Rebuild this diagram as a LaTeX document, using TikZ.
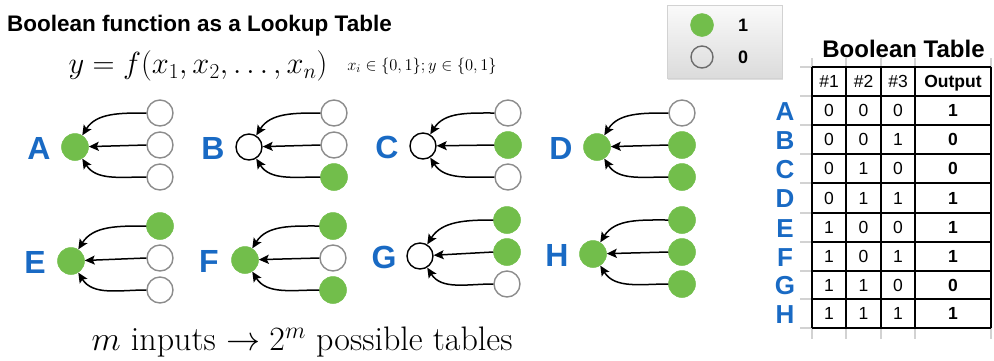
\documentclass[tikz,border=0pt]{standalone}
\usepackage{fix-cm}
\usepackage{fontspec}
\newfontfamily\arial{Liberation Sans}
\usetikzlibrary{arrows.meta,shadows}
\definecolor{ongreen}{RGB}{114,190,75}
\definecolor{lblblue}{RGB}{25,106,196}
\definecolor{ringgray}{RGB}{140,140,140}
\definecolor{gridgray}{RGB}{210,210,210}
\tikzset{
 onnode/.style={circle,fill=ongreen,draw=ongreen,line width=0.5pt,minimum size=27pt,inner sep=0pt},
 offin/.style={circle,draw=ringgray,line width=1.4pt,minimum size=26pt,inner sep=0pt},
 offout/.style={circle,draw=black,line width=1.4pt,minimum size=26pt,inner sep=0pt},
 grplbl/.style={text=lblblue,font=\arial\bfseries\fontsize{32}{32}\selectfont,inner sep=0pt},
 arr/.style={-{Stealth[length=10pt,width=9pt,inset=2pt]},line width=1.5pt},
 cell/.style={font=\arial\fontsize{17.5}{17.5}\selectfont,inner sep=0pt,text depth=0pt},
 cellb/.style={font=\arial\bfseries\fontsize{17.5}{17.5}\selectfont,inner sep=0pt,text depth=0pt},
 rowlbl/.style={text=lblblue,font=\arial\bfseries\fontsize{26}{26}\selectfont,inner sep=0pt},
 tline/.style={line width=1.7pt,black},
 gline/.style={line width=1.5pt,gridgray},
}
\newcommand\fgrp[9]{%
 \node[grplbl] (lab#1) at ({#2-36},{#3+1}) {#1};
 \node[#4] (t#1) at (#2,#3) {};
 \node[#7] (#1a) at (#5,{#6-32}) {};
 \node[#8] (#1b) at (#5,#6) {};
 \node[#9] (#1c) at (#5,{#6+32}) {};
 \draw[arr] (#1a.west) to[out=180,in=58] (t#1);
 \draw[arr] (#1b.west) -- (t#1);
 \draw[arr] (#1c.west) to[out=180,in=-58] (t#1);
}
\begin{document}
\begin{tikzpicture}[x=1pt,y=-1pt]
\useasboundingbox (0,0) rectangle (994,360);
% title and formulas
\node[anchor=base west,inner sep=0pt,font=\arial\bfseries\fontsize{22.5}{22.5}\selectfont] (title) at (7,31.6) {Boolean function as a Lookup Table};
\node[inner sep=0pt,font=\fontsize{30.5}{30.5}\selectfont] (eq) at (198,66) {$y=f(x_1,x_2,\ldots,x_n)$};
\node[inner sep=0pt,font=\fontsize{16.5}{16.5}\selectfont] (dom) at (422,66) {$x_i\in\{0,1\}; y\in\{0,1\}$};
\node[inner sep=0pt,font=\fontsize{34}{34}\selectfont] (cap) at (302,342) {$m$ inputs $\rightarrow 2^m$ possible tables};
% legend
\node[draw=gray!35,top color=gray!4,bottom color=gray!28,drop shadow={opacity=0.25,shadow xshift=1pt,shadow yshift=-2pt},minimum width=115pt,minimum height=73pt,inner sep=0pt] (legend) at (724.5,41.5) {};
\node[onnode,minimum size=23pt] (leg1) at (702,25) {};
\node[circle,draw=gray!85!black,line width=1.4pt,minimum size=22pt,inner sep=0pt] (leg0) at (702,57) {};
\node[inner sep=0pt,font=\arial\bfseries\fontsize{18}{18}\selectfont] (leg1t) at (743,25) {1};
\node[inner sep=0pt,font=\arial\bfseries\fontsize{18}{18}\selectfont] (leg0t) at (743,57) {0};
% groups
\fgrp{A}{75}{147}{onnode}{160}{145}{offin}{offin}{offin}
\fgrp{B}{249}{147}{offout}{334}{145}{offin}{offin}{onnode}
\fgrp{C}{423}{146}{offout}{508}{145}{offin}{onnode}{offin}
\fgrp{D}{597}{147}{onnode}{682}{145}{offin}{onnode}{onnode}
\fgrp{E}{71}{261}{onnode}{160}{258}{onnode}{offin}{offin}
\fgrp{F}{245}{260}{onnode}{333}{258}{onnode}{offin}{onnode}
\fgrp{G}{420}{256}{offout}{507}{252}{onnode}{onnode}{offin}
\fgrp{H}{593}{254}{onnode}{682}{252}{onnode}{onnode}{onnode}
% table
\node[anchor=base,inner sep=0pt,font=\arial\bfseries\fontsize{24}{24}\selectfont] (btitle) at (903.5,57) {Boolean Table};
\foreach \xx in {812,846,881,915,991} {
 \draw[gline] (\xx,58) -- (\xx,67);
 \draw[gline] (\xx,328) -- (\xx,339);
}
\foreach \yy in {67,96,125,154,183,213,242,271,299,328} {
 \draw[gline] (800,\yy) -- (812,\yy);
 \draw[tline] (812,\yy) -- (991,\yy);
}
\foreach \xx in {812,846,881,915,991} \draw[tline] (\xx,67) -- (\xx,328);
\node[cell] (h1) at (829,81.5) {\#1};
\node[cell] (h2) at (863.5,81.5) {\#2};
\node[cell] (h3) at (898,81.5) {\#3};
\node[cellb] (h4) at (953,81.5) {Output};
\foreach \L/\a/\b/\c/\o/\yy in {A/0/0/0/1/110.5,B/0/0/1/0/139.5,C/0/1/0/0/168.5,D/0/1/1/1/198,E/1/0/0/1/227.5,F/1/0/1/1/256.5,G/1/1/0/0/285,H/1/1/1/1/313.5} {
 \node[rowlbl] (row\L) at (785,\yy+1) {\L};
 \node[cell] (c\L1) at (829,\yy) {\a};
 \node[cell] (c\L2) at (863.5,\yy) {\b};
 \node[cell] (c\L3) at (898,\yy) {\c};
 \node[cellb] (c\L4) at (953,\yy) {\o};
}
\end{tikzpicture}
\end{document}
